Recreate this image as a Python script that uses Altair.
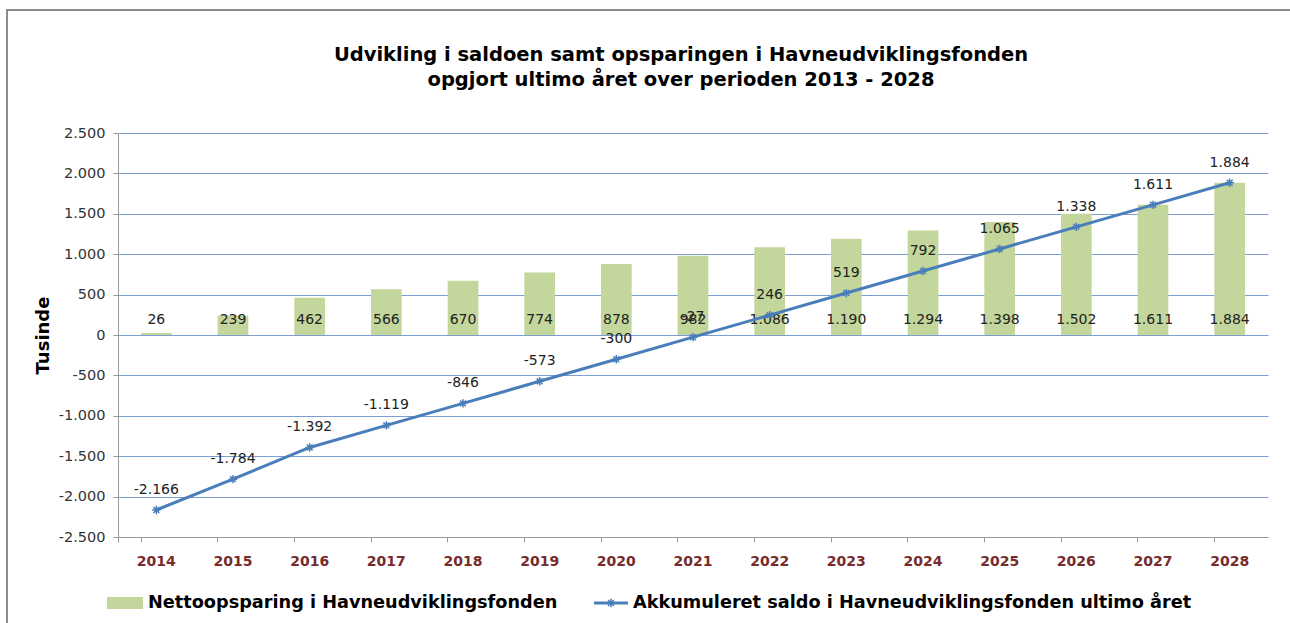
import altair as alt
import pandas as pd

years = ["2014", "2015", "2016", "2017", "2018", "2019", "2020", "2021",
         "2022", "2023", "2024", "2025", "2026", "2027", "2028"]
netto = [26, 239, 462, 566, 670, 774, 878, 982, 1086, 1190, 1294, 1398, 1502, 1611, 1884]
saldo = [-2166, -1784, -1392, -1119, -846, -573, -300, -27, 246, 519, 792, 1065, 1338, 1611, 1884]
series_names = ["Nettoopsparing i Havneudviklingsfonden",
                "Akkumuleret saldo i Havneudviklingsfonden ultimo året"]
title_lines = ["Udvikling i saldoen samt opsparingen i Havneudviklingsfonden",
               "opgjort ultimo året over perioden 2013 - 2028"]
y_title = "Tusinde"


def dk(v):
    return f"{v:,}".replace(",", ".")


df = pd.DataFrame({
    "year": years,
    "netto": netto,
    "saldo": saldo,
    "netto_lbl": [dk(v) for v in netto],
    "saldo_lbl": [dk(v) for v in saldo],
})

FONT = "DejaVu Sans"
GREEN = "#c3d69b"
BLUE = "#4a7ebb"
ASTERISK = "M -1 0 L 1 0 M 0 -1 L 0 1 M -0.7 -0.7 L 0.7 0.7 M -0.7 0.7 L 0.7 -0.7"

W, H = 1150, 404

x_enc = alt.X("year:N", sort=years, title=None,
              scale=alt.Scale(paddingInner=0.6, paddingOuter=0.3),
              axis=alt.Axis(labelFont=FONT, labelFontSize=14, labelFontWeight="bold",
                            labelColor="#772b2b", labelAngle=0, labelPadding=12,
                            tickSize=5, tickColor="#999999", bandPosition=0, tickExtra=True,
                            domainColor="#999999", grid=False))
y_scale = alt.Scale(domain=[-2500, 2500], nice=False)
y_axis = alt.Axis(values=list(range(-2500, 2501, 500)),
                  labelExpr="(datum.value < 0 ? '-' : '') + replace(format(abs(datum.value), ',d'), ',', '.')",
                  labelFont=FONT, labelFontSize=14.5, labelColor="#333333", labelPadding=8,
                  tickSize=5, tickColor="#999999", domainColor="#999999",
                  grid=True, gridColor="#7a9fd0", gridWidth=1,
                  title=y_title, titleFont=FONT, titleFontSize=18, titleFontWeight="bold",
                  titleColor="#000000", titlePadding=6)

base = alt.Chart(df)

bars = base.mark_bar(color=GREEN).encode(
    x=x_enc,
    y=alt.Y("netto:Q", scale=y_scale, axis=y_axis),
)

bar_labels = base.mark_text(font=FONT, fontSize=14, color="#222222", dy=-15,
                            baseline="middle").encode(
    x=alt.X("year:N", sort=years),
    y=alt.Y("zero:Q", scale=y_scale),
    text="netto_lbl:N",
).transform_calculate(zero="0")

line = base.mark_line(color=BLUE, strokeWidth=3).encode(
    x=alt.X("year:N", sort=years),
    y=alt.Y("saldo:Q", scale=y_scale),
)

pts = base.mark_point(shape=ASTERISK, size=70, filled=False, color=BLUE,
                      strokeWidth=1.5, opacity=1).encode(
    x=alt.X("year:N", sort=years),
    y=alt.Y("saldo:Q", scale=y_scale),
)

line_labels = base.mark_text(font=FONT, fontSize=14, color="#222222", dy=-20,
                             baseline="middle").encode(
    x=alt.X("year:N", sort=years),
    y=alt.Y("saldo:Q", scale=y_scale),
    text="saldo_lbl:N",
)

# Title as text marks (two lines)
title_df = pd.DataFrame({"line": title_lines, "row": [0, 1]})
title = alt.Chart(title_df).mark_text(
    font=FONT, fontSize=19.5, fontWeight="bold", align="center", baseline="middle", color="#000000"
).encode(
    x=alt.value(563),
    y=alt.value(-78),
    text="line:N",
).transform_filter("datum.row == 0")
title2 = alt.Chart(title_df).mark_text(
    font=FONT, fontSize=19.5, fontWeight="bold", align="center", baseline="middle", color="#000000"
).encode(
    x=alt.value(563),
    y=alt.value(-53),
    text="line:N",
).transform_filter("datum.row == 1")

# Legend (manual)
leg_rect = alt.Chart(pd.DataFrame({"name": series_names[:1]})).mark_rect(color=GREEN).encode(
    x=alt.value(-11), x2=alt.value(25), y=alt.value(464), y2=alt.value(476))
leg_text1 = alt.Chart(pd.DataFrame({"name": series_names[:1]})).mark_text(
    font=FONT, fontSize=17.7, fontWeight="bold", align="left", baseline="middle", color="#000000"
).encode(x=alt.value(30), y=alt.value(470), text="name:N")
leg_line = alt.Chart(pd.DataFrame({"name": series_names[1:]})).mark_rule(
    color=BLUE, strokeWidth=3).encode(x=alt.value(476), x2=alt.value(510), y=alt.value(470))
leg_pt = alt.Chart(pd.DataFrame({"name": series_names[1:]})).mark_point(
    shape=ASTERISK, size=70, filled=False, color=BLUE, strokeWidth=1.5, opacity=1
).encode(x=alt.value(493), y=alt.value(470))
leg_text2 = alt.Chart(pd.DataFrame({"name": series_names[1:]})).mark_text(
    font=FONT, fontSize=17.7, fontWeight="bold", align="left", baseline="middle", color="#000000"
).encode(x=alt.value(515), y=alt.value(470), text="name:N")

frame = alt.Chart(pd.DataFrame({"name": ["frame"]})).mark_rect(
    fill=None, stroke="#8c8c8c", strokeWidth=2).encode(
    x=alt.value(-111), x2=alt.value(1190), y=alt.value(-123), y2=alt.value(520))

chart = alt.layer(
    frame, bars, bar_labels, line, pts, line_labels, title, title2,
    leg_rect, leg_text1, leg_line, leg_pt, leg_text2,
).properties(
    width=W, height=H,
    autosize=alt.AutoSizeParams(type="none"),
    padding={"left": 118, "top": 133, "right": 22, "bottom": 86},
    background="white",
).configure_view(stroke=None)

chart.save("out.html", embed_options={"renderer": "svg", "actions": False})
